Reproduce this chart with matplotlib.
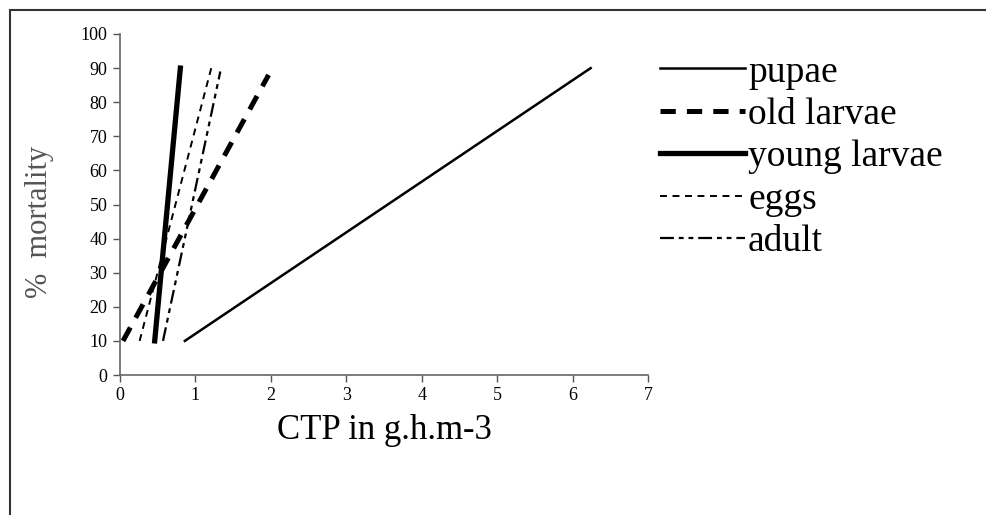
import matplotlib.pyplot as plt
import matplotlib.patches as patches

plt.rcParams['font.family'] = ['Liberation Serif', 'DejaVu Serif']
plt.rcParams['lines.scale_dashes'] = False

# CTP (g.h.m-3) at 10 % and ~90 % mortality
stages = ['pupae', 'old larvae', 'young larvae', 'eggs', 'adult']
pupae_x = [0.86, 6.24]
pupae_y = [10, 90]
old_larvae_x = [0.04, 1.97]
old_larvae_y = [10, 88]
young_larvae_x = [0.46, 0.80]
young_larvae_y = [10, 90]
eggs_x = [0.26, 1.21]
eggs_y = [10, 90]
adult_x = [0.57, 1.33]
adult_y = [10, 89]

x_ticks = list(range(0, 8))
y_ticks = list(range(0, 101, 10))

fig = plt.figure(figsize=(9.87, 5.15), dpi=100)
ax = fig.add_axes([120 / 987, 1 - 375 / 515, (648 - 120) / 987, (375 - 34) / 515])

ax.plot(pupae_x, pupae_y, color='black', lw=1.8, label=stages[0])
ax.plot(old_larvae_x, old_larvae_y, color='black', lw=3.6, dashes=(11, 8),
        dash_capstyle='butt', label=stages[1])
ax.plot(young_larvae_x, young_larvae_y, color='black', lw=3.8, label=stages[2])
ax.plot(eggs_x, eggs_y, color='black', lw=1.4, dashes=(5, 4), label=stages[3])
ax.plot(adult_x, adult_y, color='black', lw=1.6, dashes=(10, 3.5, 3.5, 3.5, 3.5, 3.5),
        label=stages[4])

ax.set_xlim(0, 7)
ax.set_ylim(0, 100)
ax.set_xticks(x_ticks)
ax.set_yticks(y_ticks)
ax.tick_params(axis='both', direction='out', length=5, width=1, color='#555555',
               labelsize=13, pad=4)
for s in ['top', 'right']:
    ax.spines[s].set_visible(False)
for s in ['left', 'bottom']:
    ax.spines[s].set_color('#666666')
    ax.spines[s].set_linewidth(1.2)

ax.set_xlabel('CTP in g.h.m-3', fontsize=25, labelpad=7)
ax.set_ylabel('%  mortality', fontsize=22, color='#555555')
ax.yaxis.set_label_coords(-0.125, 0.45)

leg = fig.legend(loc='upper left', bbox_to_anchor=(660 / 987, 1 - 55 / 515),
                 frameon=False, fontsize=27, handlelength=2.27, handletextpad=0.08,
                 labelspacing=0.21, borderaxespad=0, borderpad=0)

fig.patches.append(patches.Rectangle((10 / 987, -0.2), 1.2, 0.2 + 1 - 10 / 515,
                                     transform=fig.transFigure, fill=False,
                                     edgecolor='#333333', lw=1.5))

fig.savefig('out.png', dpi=100)
